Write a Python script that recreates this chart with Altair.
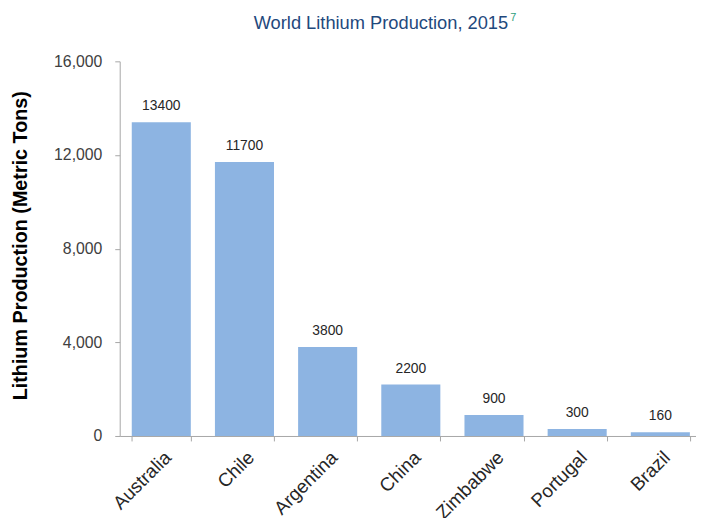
import altair as alt
import pandas as pd

countries = ["Australia", "Chile", "Argentina", "China", "Zimbabwe", "Portugal", "Brazil"]
production = [13400, 11700, 3800, 2200, 900, 300, 160]
y_ticks = [0, 4000, 8000, 12000, 16000]
title_text = "World Lithium Production, 2015"
title_note = "7"
y_title = "Lithium Production (Metric Tons)"

df = pd.DataFrame({"country": countries, "value": production})

FONT = "Liberation Sans"
AXIS_GRAY = "#A6A6A6"
LABEL = "#404040"

x_enc = alt.X(
    "country:N",
    sort=countries,
    scale=alt.Scale(range=[0, 589], paddingInner=0.29, paddingOuter=0.145),
    axis=alt.Axis(
        title=None,
        labelAngle=-45,
        labelFont=FONT,
        labelFontSize=19,
        labelColor="#262626",
        labelPadding=7,
        tickBand="extent",
        tickSize=5,
        tickColor=AXIS_GRAY,
        domainColor=AXIS_GRAY,
    ),
)
y_enc = alt.Y(
    "value:Q",
    scale=alt.Scale(domain=[0, 16000]),
    axis=alt.Axis(
        title=y_title,
        values=y_ticks,
        format=",.0f",
        grid=False,
        labelFont=FONT,
        labelFontSize=16,
        labelColor=LABEL,
        labelPadding=13,
        tickSize=5,
        tickColor=AXIS_GRAY,
        domainColor=AXIS_GRAY,
        titleFont=FONT,
        titleFontSize=20,
        titleFontWeight="bold",
        titleColor="#000000",
        titleAngle=-90,
        titleAlign="center",
        titleBaseline="middle",
        titleX=-100,
        titleY=186,
    ),
)

base = alt.Chart(df)
bars = base.mark_bar(color="#8DB4E2").encode(x=x_enc, y=y_enc)
labels = base.mark_text(
    baseline="bottom", dy=-9, font=FONT, fontSize=14, color="#262626"
).encode(x=alt.X("country:N", sort=countries), y="value:Q", text="value:Q")

title_df = pd.DataFrame({"t": [title_text], "n": [title_note]})
title_main = alt.Chart(title_df).mark_text(
    align="right", baseline="alphabetic", font=FONT, fontSize=18.5, color="#1F497D"
).encode(x=alt.value(393), y=alt.value(-33), text="t:N")
title_sup = alt.Chart(title_df).mark_text(
    align="left", baseline="alphabetic", font=FONT, fontSize=11, color="#2E9E7A"
).encode(x=alt.value(395), y=alt.value(-41), text="n:N")

chart = alt.layer(bars, labels, title_main, title_sup).properties(
    width=583,
    height=379,
    autosize=alt.AutoSizeParams(type="none"),
    padding={"left": 113, "top": 51, "right": 0, "bottom": 80},
).configure_view(stroke=None)

chart.save("out.html", embed_options={"renderer": "svg", "actions": False})
